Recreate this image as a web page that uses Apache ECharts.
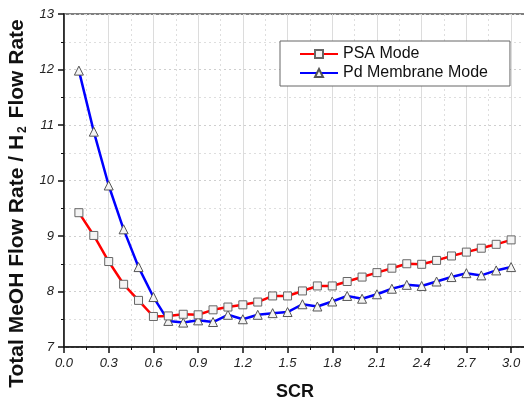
<!DOCTYPE html>
<html>
<head>
<meta charset="utf-8">
<script src="https://cdn.jsdelivr.net/npm/echarts@6/dist/echarts.min.js"></script>
<style>
html,body{margin:0;padding:0;background:#fff;}
#chart{width:524px;height:399px;}
</style>
</head>
<body>
<div id="chart"></div>
<script>
var scr = [0.1,0.2,0.3,0.4,0.5,0.6,0.7,0.8,0.9,1.0,1.1,1.2,1.3,1.4,1.5,1.6,1.7,1.8,1.9,2.0,2.1,2.2,2.3,2.4,2.5,2.6,2.7,2.8,2.9,3.0];
var psaMode = [9.42,9.01,8.54,8.13,7.84,7.55,7.56,7.59,7.58,7.67,7.72,7.76,7.81,7.92,7.92,8.01,8.10,8.10,8.18,8.26,8.34,8.42,8.50,8.49,8.56,8.64,8.71,8.78,8.85,8.93];
var pdMembraneMode = [11.98,10.88,9.91,9.12,8.44,7.90,7.47,7.44,7.48,7.45,7.58,7.50,7.58,7.61,7.63,7.77,7.73,7.82,7.92,7.87,7.95,8.05,8.12,8.10,8.18,8.26,8.33,8.29,8.38,8.44];
var xTickLabels = ['0.0','0.3','0.6','0.9','1.2','1.5','1.8','2.1','2.4','2.7','3.0'];
var yTickLabels = ['7','8','9','10','11','12','13'];
var seriesNames = ['PSA Mode','Pd Membrane Mode'];

function pairs(xs, ys){ return xs.map(function(x,i){ return [x, ys[i]]; }); }

var chart = echarts.init(document.getElementById('chart'), null, {renderer:'canvas'});
var font = '"Liberation Sans", Arial, sans-serif';
chart.setOption({
  animation: false,
  backgroundColor: '#ffffff',
  grid: {left: 64, top: 14, right: -2, bottom: 52, containLabel: false, outerBoundsMode: 'none',
         show: true, borderColor: '#555', borderWidth: 1.5, backgroundColor: 'transparent'},
  legend: {
    orient: 'vertical', left: 280, top: 41,
    padding: [5, 22, 5, 19], itemGap: 3,
    itemWidth: 38, itemHeight: 10,
    backgroundColor: '#fff', borderColor: '#666', borderWidth: 1,
    textStyle: {fontFamily: font, fontSize: 16, color: '#111'},
    data: seriesNames
  },
  xAxis: {
    type: 'value', min: 0, max: 3.1, interval: 0.3,
    name: 'SCR', nameLocation: 'middle', nameGap: 36,
    nameTextStyle: {fontFamily: font, fontSize: 18, fontWeight: 'bold', color: '#111'},
    axisLine: {lineStyle: {color: '#111', width: 1.5}},
    axisTick: {show: true, inside: false, length: 6, lineStyle: {color: '#111', width: 1.5}},
    minorTick: {show: true, splitNumber: 2, length: 3, lineStyle: {color: '#111', width: 1}},
    axisLabel: {
      margin: 10, fontFamily: font, fontSize: 13, fontStyle: 'italic', color: '#222',
      formatter: function(v){ var s = v.toFixed(1); return xTickLabels.indexOf(s) >= 0 ? s : ''; }
    },
    splitLine: {show: true, lineStyle: {color: '#dcdcdc', width: 1, type: 'solid'}},
    minorSplitLine: {show: true, lineStyle: {color: '#dedede', width: 1, type: [2, 3]}}
  },
  yAxis: {
    type: 'value', min: 7, max: 13, interval: 1,
    name: '{b|Total MeOH Flow Rate / H}{sub|2}{b| Flow Rate}',
    nameLocation: 'middle', nameGap: 31,
    nameTextStyle: {
      fontFamily: font, fontSize: 21, fontWeight: 'bold', color: '#111', padding: [0, 46, 0, 0],
      rich: {
        b: {fontFamily: font, fontSize: 21, fontWeight: 'bold', color: '#111'},
        sub: {fontFamily: font, fontSize: 12, fontWeight: 'bold', color: '#111', verticalAlign: 'bottom', padding: [10, 2, 0, 2]}
      }
    },
    axisLine: {show: true, lineStyle: {color: '#111', width: 1.5}},
    axisTick: {show: true, inside: false, length: 6, lineStyle: {color: '#111', width: 1.5}},
    minorTick: {show: true, splitNumber: 2, length: 3, lineStyle: {color: '#111', width: 1}},
    axisLabel: {
      margin: 10, fontFamily: font, fontSize: 13, fontStyle: 'italic', color: '#222',
      formatter: function(v){ var s = String(v); return yTickLabels.indexOf(s) >= 0 ? s : ''; }
    },
    splitLine: {show: true, lineStyle: {color: '#cfcfcf', width: 1, type: [2, 3]}},
    minorSplitLine: {show: true, lineStyle: {color: '#dedede', width: 1, type: [2, 3]}}
  },
  series: [
    {
      name: seriesNames[0], type: 'line', data: pairs(scr, psaMode),
      symbol: 'rect', symbolSize: 8, showAllSymbol: true,
      lineStyle: {color: '#ff0000', width: 2.5},
      itemStyle: {color: '#f4f4f4', borderColor: '#666', borderWidth: 1},
      color: '#ff0000', z: 3
    },
    {
      name: seriesNames[1], type: 'line', data: pairs(scr, pdMembraneMode),
      symbol: 'triangle', symbolSize: 9, showAllSymbol: true,
      lineStyle: {color: '#0000ff', width: 2.5},
      itemStyle: {color: '#f4f4f4', borderColor: '#555', borderWidth: 1},
      color: '#0000ff', z: 2
    }
  ]
});
</script>
</body>
</html>
